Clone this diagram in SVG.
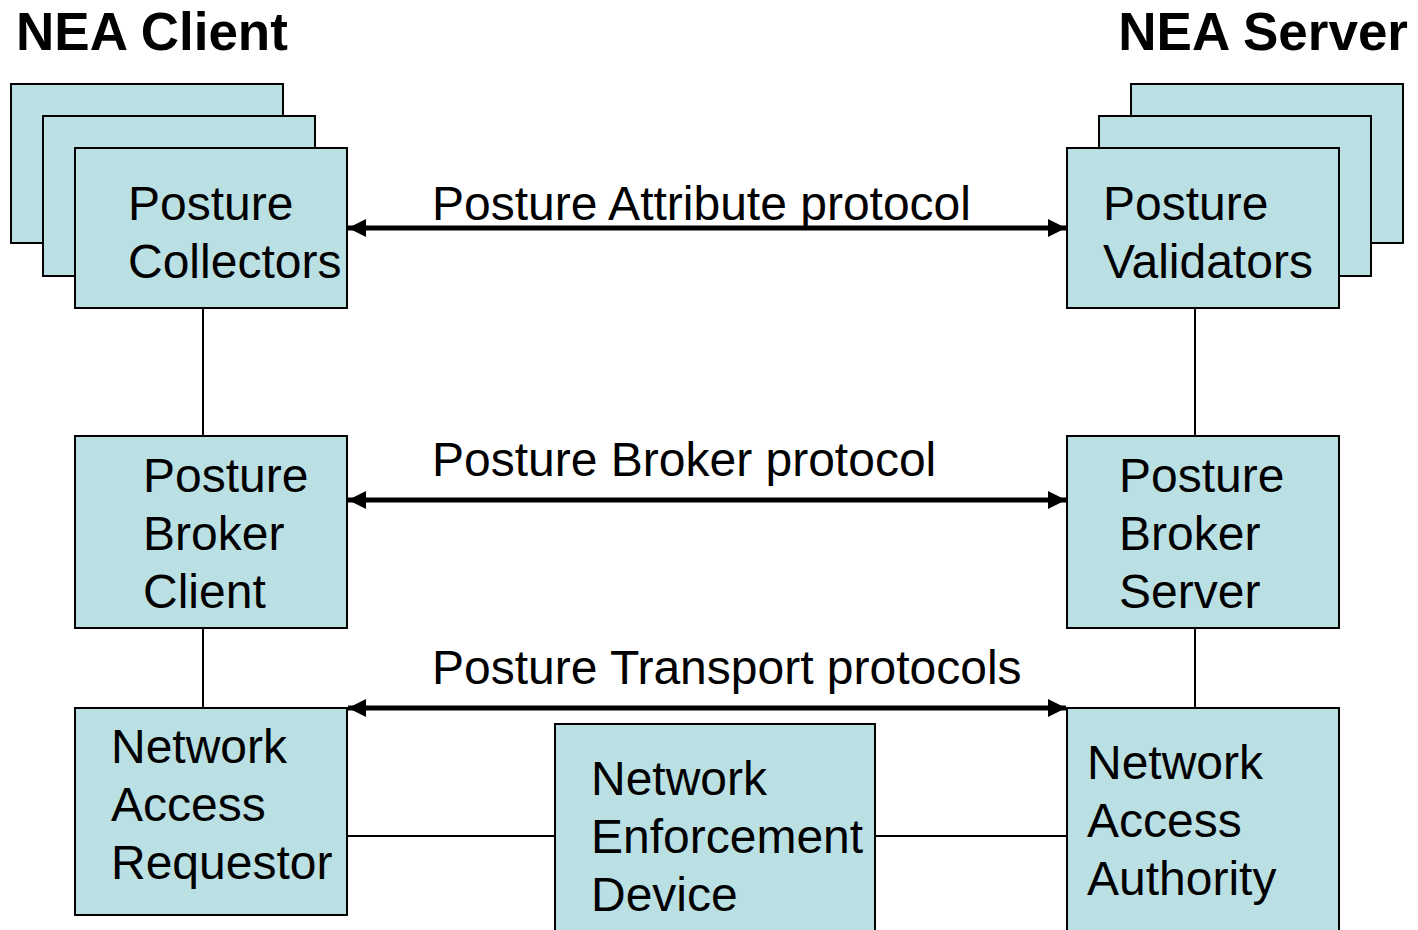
<svg xmlns="http://www.w3.org/2000/svg" width="1418" height="930" viewBox="0 0 1418 930">
<style>
.box{fill:#BBE0E3;stroke:#000;stroke-width:2}
.t{font-family:"Liberation Sans",Arial,sans-serif;font-size:48px;fill:#000}
.h{font-family:"Liberation Sans",Arial,sans-serif;font-size:53px;font-weight:bold;fill:#000}
.ln{stroke:#000;stroke-width:2;fill:none}
.ar{stroke:#000;stroke-width:5;fill:none;marker-start:url(#a);marker-end:url(#a)}
</style>
<defs>
<marker id="a" viewBox="0 0 10 10" refX="10" refY="5" markerWidth="3.6" markerHeight="4" orient="auto-start-reverse" markerUnits="strokeWidth">
<path d="M0,0 L10,5 L0,10 Z" fill="#000"/>
</marker>
</defs>
<rect width="1418" height="930" fill="#fff"/>
<text class="h" x="16" y="50">NEA Client</text>
<text class="h" x="1408" y="50" text-anchor="end">NEA Server</text>
<g id="connectors">
<line class="ln" x1="203" y1="308" x2="203" y2="436"/>
<line class="ln" x1="203" y1="628" x2="203" y2="708"/>
<line class="ln" x1="1195" y1="308" x2="1195" y2="436"/>
<line class="ln" x1="1195" y1="628" x2="1195" y2="708"/>
<line class="ln" x1="347" y1="836" x2="555" y2="836"/>
<line class="ln" x1="875" y1="836" x2="1067" y2="836"/>
<line class="ar" x1="348" y1="228" x2="1066" y2="228"/>
<line class="ar" x1="348" y1="500" x2="1066" y2="500"/>
<line class="ar" x1="348" y1="708" x2="1066" y2="708"/>
<text class="t" x="432" y="220">Posture Attribute protocol</text>
<text class="t" x="432" y="476">Posture Broker protocol</text>
<text class="t" x="432" y="684">Posture Transport protocols</text>
</g>
<g id="collectors">
<rect class="box" x="11" y="84" width="272" height="159"/>
<rect class="box" x="43" y="116" width="272" height="160"/>
<rect class="box" x="75" y="148" width="272" height="160"/>
<text class="t" x="128" y="220">Posture</text>
<text class="t" x="128" y="278">Collectors</text>
</g>
<g id="validators">
<rect class="box" x="1131" y="84" width="272" height="159"/>
<rect class="box" x="1099" y="116" width="272" height="160"/>
<rect class="box" x="1067" y="148" width="272" height="160"/>
<text class="t" x="1103" y="220">Posture</text>
<text class="t" x="1103" y="278">Validators</text>
</g>
<g id="broker-client">
<rect class="box" x="75" y="436" width="272" height="192"/>
<text class="t" x="143" y="492">Posture</text>
<text class="t" x="143" y="550">Broker</text>
<text class="t" x="143" y="608">Client</text>
</g>
<g id="broker-server">
<rect class="box" x="1067" y="436" width="272" height="192"/>
<text class="t" x="1119" y="492">Posture</text>
<text class="t" x="1119" y="550">Broker</text>
<text class="t" x="1119" y="608">Server</text>
</g>
<g id="nar">
<rect class="box" x="75" y="708" width="272" height="207"/>
<text class="t" x="111" y="763">Network</text>
<text class="t" x="111" y="821">Access</text>
<text class="t" x="111" y="879">Requestor</text>
</g>
<g id="ned">
<rect class="box" x="555" y="724" width="320" height="220"/>
<text class="t" x="591" y="795">Network</text>
<text class="t" x="591" y="853">Enforcement</text>
<text class="t" x="591" y="911">Device</text>
</g>
<g id="naa">
<rect class="box" x="1067" y="708" width="272" height="236"/>
<text class="t" x="1087" y="779">Network</text>
<text class="t" x="1087" y="837">Access</text>
<text class="t" x="1087" y="895">Authority</text>
</g>
</svg>
